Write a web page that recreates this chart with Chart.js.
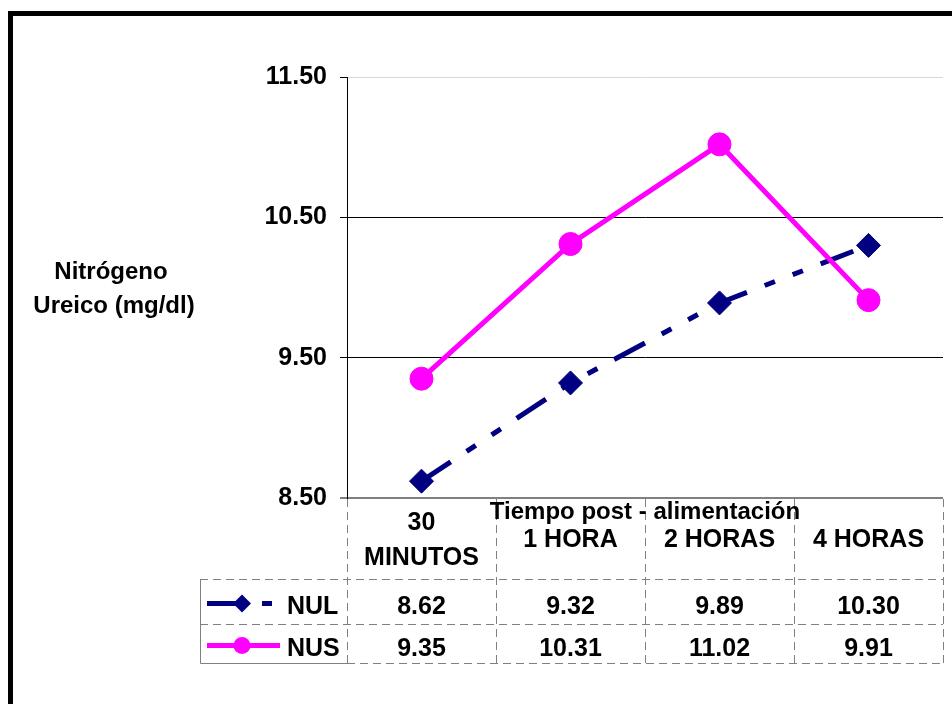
<!DOCTYPE html>
<html>
<head>
<meta charset="utf-8">
<script src="https://cdn.jsdelivr.net/npm/chart.js@4/dist/chart.umd.min.js"></script>
<style>
  html, body { margin: 0; padding: 0; background: #ffffff; }
  #wrap { width: 952px; height: 704px; position: relative; }
</style>
</head>
<body>
<div id="wrap"><canvas id="c" width="952" height="704"></canvas></div>
<script>
// Sampling times after feeding (header of the data table)
const categories = [["30", "MINUTOS"], ["1 HORA"], ["2 HORAS"], ["4 HORAS"]];
// Urea nitrogen, mg/dl
const nulValues = [8.62, 9.32, 9.89, 10.30];
const nusValues = [9.35, 10.31, 11.02, 9.91];
const seriesNames = ["NUL", "NUS"];
// Value axis
const yMin = 8.5;
const yMax = 11.5;
const yStep = 1;

const FONT = "'Liberation Sans', Arial, sans-serif";
const FONT_SIZE = 25;
const NAVY = "#000080";
const MAGENTA = "#FF00FF";
const NUL_DASH = [35, 19, 11, 19, 11, 19];

// Outer black frame of the chart
const framePlugin = {
  id: "frame",
  beforeDraw(chart) {
    const ctx = chart.ctx;
    ctx.save();
    ctx.fillStyle = "#ffffff";
    ctx.fillRect(0, 0, chart.width, chart.height);
    ctx.strokeStyle = "#000000";
    ctx.lineWidth = 5;
    ctx.beginPath();
    ctx.moveTo(10.5, chart.height + 5);
    ctx.lineTo(10.5, 13.5);
    ctx.lineTo(chart.width + 5, 13.5);
    ctx.stroke();
    ctx.restore();
  }
};

// Data table under the plot, with legend keys, plus axis titles
const tablePlugin = {
  id: "dataTable",
  afterDraw(chart) {
    const ctx = chart.ctx;
    const xs = chart.scales.x;
    const area = chart.chartArea;
    const n = categories.length;
    const centers = categories.map((_, i) => xs.getPixelForValue(i));
    const edges = [area.left];
    for (let i = 0; i < n - 1; i++) edges.push((centers[i] + centers[i + 1]) / 2);
    edges.push(area.right);

    const top = area.bottom;
    const row1 = top + 81;
    const row2 = row1 + 45;
    const bottom = row2 + 39;
    const keyLeft = 200;

    ctx.save();
    ctx.strokeStyle = "#808080";
    ctx.lineWidth = 1;

    // solid outline of the legend-key column
    ctx.beginPath();
    ctx.moveTo(keyLeft + 0.5, row1);
    ctx.lineTo(keyLeft + 0.5, bottom + 0.5);
    ctx.lineTo(area.left, bottom + 0.5);
    ctx.stroke();

    // dashed grid of the table
    ctx.setLineDash([8, 5]);
    ctx.beginPath();
    [row1, row2].forEach(y => {
      ctx.moveTo(keyLeft, y + 0.5);
      ctx.lineTo(area.right, y + 0.5);
    });
    ctx.moveTo(area.left, bottom + 0.5);
    ctx.lineTo(area.right, bottom + 0.5);
    edges.forEach(x => {
      ctx.moveTo(Math.round(x) + 0.5, top + 1);
      ctx.lineTo(Math.round(x) + 0.5, bottom);
    });
    ctx.stroke();
    ctx.setLineDash([]);

    // header labels
    ctx.fillStyle = "#000000";
    ctx.font = "bold " + FONT_SIZE + "px " + FONT;
    ctx.textAlign = "center";
    ctx.textBaseline = "alphabetic";
    categories.forEach((lines, i) => {
      const k = lines.length;
      lines.forEach((t, j) => {
        const y = top + 49 + (j - (k - 1) / 2) * 35;
        ctx.fillText(t, centers[i], y);
      });
    });

    // value rows
    const rows = [
      { vals: nulValues, base: row1 + 35 },
      { vals: nusValues, base: row2 + 32 }
    ];
    rows.forEach(r => {
      r.vals.forEach((v, i) => ctx.fillText(v.toFixed(2), centers[i], r.base));
    });

    // legend keys
    const keyMid1 = row1 + 24.5;
    const keyMid2 = row2 + 21.5;
    ctx.lineWidth = 5;
    ctx.strokeStyle = NAVY;
    ctx.beginPath();
    ctx.moveTo(207, keyMid1); ctx.lineTo(242, keyMid1);
    ctx.moveTo(262, keyMid1); ctx.lineTo(272, keyMid1);
    ctx.stroke();
    ctx.fillStyle = NAVY;
    ctx.beginPath();
    const d = 9;
    ctx.moveTo(242, keyMid1 - d); ctx.lineTo(242 + d, keyMid1);
    ctx.lineTo(242, keyMid1 + d); ctx.lineTo(242 - d, keyMid1);
    ctx.closePath(); ctx.fill();

    ctx.strokeStyle = MAGENTA;
    ctx.beginPath();
    ctx.moveTo(207, keyMid2); ctx.lineTo(280, keyMid2);
    ctx.stroke();
    ctx.fillStyle = MAGENTA;
    ctx.beginPath();
    ctx.arc(242, keyMid2, 8.5, 0, Math.PI * 2);
    ctx.fill();

    ctx.fillStyle = "#000000";
    ctx.textAlign = "left";
    ctx.fillText(seriesNames[0], 287, row1 + 35);
    ctx.fillText(seriesNames[1], 287, row2 + 32);

    // axis titles
    ctx.textAlign = "center";
    ctx.font = "bold 24px " + FONT;
    ctx.fillText("Tiempo post - alimentación", (area.left + area.right) / 2, top + 21);
    ctx.fillText("Nitrógeno", 111, 279);
    ctx.fillText("Ureico (mg/dl)", 114, 313);
    ctx.restore();
  }
};

const gridColor = v => (v === yMax ? "#d9d9d9" : v === yMin ? "#808080" : "#000000");

new Chart(document.getElementById("c"), {
  type: "line",
  data: {
    labels: categories,
    datasets: [
      {
        label: seriesNames[0],
        data: nulValues,
        borderColor: NAVY,
        backgroundColor: NAVY,
        borderWidth: 5,
        borderDash: NUL_DASH,
        borderCapStyle: "butt",
        pointStyle: "rectRot",
        pointRadius: 12,
        pointBorderWidth: 1,
        pointBorderColor: NAVY,
        pointBackgroundColor: NAVY,
        tension: 0,
        order: 1
      },
      {
        label: seriesNames[1],
        data: nusValues,
        borderColor: MAGENTA,
        backgroundColor: MAGENTA,
        borderWidth: 5,
        pointStyle: "circle",
        pointRadius: 11.5,
        pointBorderWidth: 1,
        pointBorderColor: MAGENTA,
        pointBackgroundColor: MAGENTA,
        tension: 0,
        order: 0
      }
    ]
  },
  options: {
    responsive: false,
    animation: false,
    devicePixelRatio: 1,
    layout: { autoPadding: false, padding: { left: 0, top: 77, right: 9, bottom: 206 } },
    plugins: {
      legend: { display: false },
      tooltip: { enabled: false },
      title: { display: false }
    },
    scales: {
      x: {
        type: "category",
        display: false,
        offset: true
      },
      y: {
        min: yMin,
        max: yMax,
        afterFit(scale) { scale.width = 347; },
        ticks: {
          stepSize: yStep,
          color: "#000000",
          padding: 13,
          font: { family: FONT, size: FONT_SIZE, weight: "bold" },
          callback: v => Number(v).toFixed(2)
        },
        grid: {
          color: c => gridColor(c.tick.value),
          tickColor: c => (c.tick.value === yMin ? "#808080" : "#000000"),
          lineWidth: c => (c.tick.value === yMin ? 2 : 1),
          tickLength: 7
        },
        border: { color: "#000000", width: 1 }
      }
    }
  },
  plugins: [framePlugin, tablePlugin]
});
</script>
</body>
</html>
